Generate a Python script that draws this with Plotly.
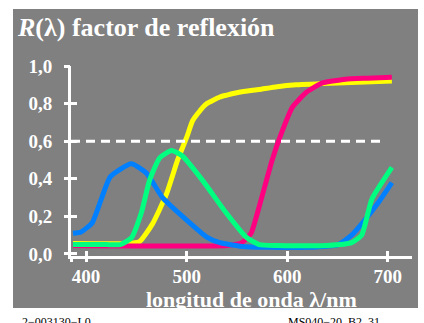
import plotly.graph_objects as go

# ---- data ----
blue_wl = [387, 395, 406, 415, 424, 445, 460, 476, 500, 520, 533, 555, 580, 620, 651, 664, 674, 690, 704]
blue_r = [0.11, 0.117, 0.165, 0.29, 0.41, 0.48, 0.43, 0.30, 0.18, 0.09, 0.06, 0.04, 0.035, 0.035, 0.05, 0.10, 0.16, 0.27, 0.38]

green_wl = [387, 420, 434, 445, 455, 463, 473, 485, 496, 516, 539, 559, 572, 590, 640, 664, 674, 684, 704]
green_r = [0.05, 0.05, 0.05, 0.085, 0.22, 0.39, 0.51, 0.55, 0.52, 0.39, 0.22, 0.09, 0.05, 0.045, 0.045, 0.06, 0.10, 0.29, 0.46]

yellow_wl = [387, 440, 453, 466, 480, 491, 500, 506, 516, 520, 533, 540, 552, 572, 590, 609, 650, 704]
yellow_r = [0.055, 0.055, 0.065, 0.16, 0.32, 0.50, 0.62, 0.71, 0.78, 0.80, 0.835, 0.845, 0.86, 0.875, 0.89, 0.90, 0.91, 0.92]

magenta_wl = [387, 540, 555, 564, 572, 585, 594, 605, 619, 635, 645, 658, 680, 704]
magenta_r = [0.045, 0.045, 0.06, 0.11, 0.25, 0.50, 0.64, 0.78, 0.86, 0.91, 0.92, 0.93, 0.935, 0.94]

x_ticks = [385, 400, 500, 600, 700]
x_ticktext = ["", "400", "500", "600", "700"]
y_ticks = [0.0, 0.2, 0.4, 0.6, 0.8, 1.0]
y_ticktext = ["0,0", "0,2", "0,4", "0,6", "0,8", "1,0"]

title_text = "<i>R</i>(λ) factor de reflexión"
xlabel_text = "longitud de onda λ/nm"
code_left = "2−003130−L0"
code_right = "MS040−20, B2_31"

GRAY = "#808080"
SERIF = "Liberation Serif"

fig = go.Figure()
series = [
    (yellow_wl, yellow_r, "#ffff00"),
    (magenta_wl, magenta_r, "#ff0080"),
    (blue_wl, blue_r, "#0080ff"),
    (green_wl, green_r, "#00ff80"),
]
for wl, r, c in series:
    fig.add_trace(go.Scatter(x=wl, y=r, mode="lines",
                             line=dict(color=c, width=5, shape="spline", smoothing=0.5),
                             showlegend=False, hoverinfo="skip"))

# dummy trace for overlay axes (outside half of the crossing ticks)
fig.add_trace(go.Scatter(x=[None], y=[None], xaxis="x2", yaxis="y2",
                         showlegend=False, hoverinfo="skip"))

W, H = 424, 323
L, R, T, B = 71, 12, 66, 67
pw, ph = W - L - R, H - T - B

def px(x):
    return (x - L) / pw

def py(y):
    return (H - B - y) / ph

fig.add_shape(type="rect", xref="paper", yref="paper",
              x0=px(13), x1=px(418), y0=py(308), y1=py(9),
              fillcolor=GRAY, line=dict(width=0), layer="below")

fig.add_shape(type="line", xref="x", yref="y", x0=385, x1=697, y0=0.6, y1=0.6,
              line=dict(color="white", width=3, dash="9px,6px"))

axis_common = dict(showgrid=False, zeroline=False, showline=True,
                   linecolor="white", linewidth=3,
                   tickcolor="white", tickwidth=3)

fig.update_layout(
    width=W, height=H,
    margin=dict(l=L, r=R, t=T, b=B),
    paper_bgcolor="white",
    plot_bgcolor=GRAY,
    xaxis=dict(range=[385, 724], tickvals=x_ticks, ticktext=x_ticktext,
               ticks="inside", ticklen=5, ticklabelstandoff=1,
               tickfont=dict(family=SERIF, size=19, color="white", weight="bold"),
               **axis_common),
    yaxis=dict(range=[-0.011, 1.0], tickvals=y_ticks, ticktext=y_ticktext,
               ticks="inside", ticklen=6, ticklabelstandoff=12,
               tickfont=dict(family=SERIF, size=19, color="white", weight="bold"),
               **axis_common),
    xaxis2=dict(overlaying="x", matches="x", anchor="y2", tickvals=x_ticks,
                ticks="outside", ticklen=5, showticklabels=False,
                showgrid=False, zeroline=False, showline=False,
                tickcolor="white", tickwidth=3),
    yaxis2=dict(overlaying="y", matches="y", anchor="x2", tickvals=y_ticks,
                ticks="outside", ticklen=6, showticklabels=False,
                showgrid=False, zeroline=False, showline=False,
                tickcolor="white", tickwidth=3),
)

fig.add_annotation(text=title_text, xref="paper", yref="paper",
                   x=px(15), y=py(27), xanchor="left", yanchor="middle",
                   showarrow=False,
                   font=dict(family=SERIF, size=26, color="white", weight="bold"))
fig.add_annotation(text=xlabel_text, xref="paper", yref="paper",
                   x=px(251), y=py(299), xanchor="center", yanchor="middle",
                   showarrow=False,
                   font=dict(family=SERIF, size=22, color="white", weight="bold"))
fig.add_annotation(text=code_left, xref="paper", yref="paper",
                   x=px(20), y=py(313), xanchor="left", yanchor="top",
                   showarrow=False,
                   font=dict(family=SERIF, size=12, color="black"))
fig.add_annotation(text=code_right, xref="paper", yref="paper",
                   x=px(382), y=py(313), xanchor="right", yanchor="top",
                   showarrow=False,
                   font=dict(family=SERIF, size=12, color="black"))

fig.write_html("out.html", config={"displayModeBar": False},
               post_script="document.body.style.margin='0px';document.body.style.overflow='hidden';")
